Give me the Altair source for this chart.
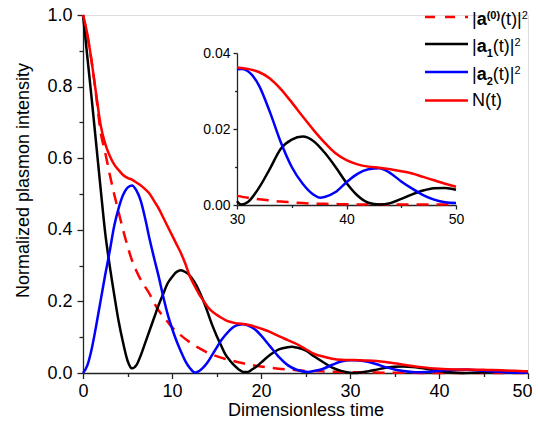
import altair as alt
import pandas as pd

# ---------------- data ----------------
A0_T = [0, 0.5, 1, 1.5, 2, 2.5, 3, 3.5, 4, 4.5, 5, 5.5, 6, 6.5, 7, 7.5, 8, 8.5, 9, 9.5,
        10, 11, 12, 13, 14, 15, 16, 17, 18, 19, 20, 21, 22, 23, 24, 25, 26, 27, 28, 29,
        30, 31, 32, 33, 34, 35, 36, 38, 40, 42, 45, 50]
A0_V = [1.0, 0.94, 0.865, 0.77, 0.67, 0.615, 0.555, 0.50, 0.45, 0.40, 0.355, 0.315, 0.285,
        0.26, 0.24, 0.22, 0.195, 0.175, 0.158, 0.143, 0.128, 0.105, 0.086, 0.07, 0.057,
        0.047, 0.039, 0.033, 0.027, 0.022, 0.018, 0.015, 0.012, 0.010, 0.008, 0.0065,
        0.0055, 0.0045, 0.0037, 0.003, 0.0024, 0.0019, 0.0015, 0.0012, 0.0009, 0.0007,
        0.0005, 0.0003, 0.0002, 0.0001, 0.0001, 0.0001]

A1_T = [0, 0.5, 1, 1.5, 2, 2.5, 3, 3.5, 4, 4.5, 5, 5.5, 6, 6.5, 7, 7.5, 8, 8.5, 9, 9.5,
        10, 10.5, 11, 11.5, 12, 12.5, 13, 13.5, 14, 14.5, 15, 15.5, 16, 16.5, 17, 17.5,
        18, 18.5, 19, 19.5, 20, 21, 22, 23, 23.5, 24, 25, 26, 27, 28, 29, 30, 30.4, 31,
        32, 33, 34, 35, 36, 37, 38, 39, 40, 41, 42, 43, 44, 45, 46, 47, 48, 49, 50]
A1_V = [1.0, 0.88, 0.76, 0.635, 0.51, 0.39, 0.30, 0.22, 0.145, 0.085, 0.035, 0.013, 0.022,
        0.05, 0.085, 0.12, 0.155, 0.19, 0.22, 0.25, 0.268, 0.282, 0.287, 0.282, 0.272,
        0.255, 0.232, 0.203, 0.17, 0.135, 0.105, 0.078, 0.052, 0.035, 0.021, 0.01, 0.003,
        0.003, 0.01, 0.018, 0.029, 0.05, 0.066, 0.072, 0.073, 0.071, 0.063, 0.046, 0.03,
        0.015, 0.006, 0.001, 0.0001, 0.0008, 0.0045, 0.0095, 0.0148, 0.0172, 0.018,
        0.0168, 0.0138, 0.01, 0.0058, 0.0025, 0.0006, 0.0001, 0.0005, 0.0016, 0.0028,
        0.0038, 0.0044, 0.0045, 0.004]

A2_T = [0, 0.5, 1, 1.5, 2, 2.5, 3, 3.5, 4, 4.5, 5, 5.5, 6, 6.5, 7, 7.5, 8, 8.5, 9, 9.5,
        10, 10.5, 11, 11.5, 12, 12.6, 13, 13.5, 14, 14.5, 15, 15.5, 16, 16.5, 17, 17.5,
        18, 18.5, 19, 19.5, 20, 21, 22, 23, 24, 25.3, 26, 27, 28, 29, 30, 30.5, 31, 32,
        33, 34, 35, 36, 37, 37.6, 38, 39, 40, 41, 42, 43, 44, 45, 46, 47, 48, 49, 50]
A2_V = [0.0, 0.022, 0.07, 0.135, 0.205, 0.275, 0.34, 0.41, 0.46, 0.497, 0.518, 0.524, 0.51,
        0.48, 0.43, 0.372, 0.32, 0.27, 0.215, 0.165, 0.125, 0.09, 0.06, 0.033, 0.014,
        0.001, 0.005, 0.015, 0.03, 0.05, 0.07, 0.09, 0.106, 0.12, 0.13, 0.135, 0.136,
        0.133, 0.127, 0.118, 0.105, 0.075, 0.045, 0.022, 0.009, 0.003, 0.006, 0.012,
        0.023, 0.032, 0.0357, 0.0358, 0.0352, 0.0315, 0.0245, 0.0165, 0.0100, 0.0056,
        0.0027, 0.0019, 0.0021, 0.0034, 0.006, 0.0082, 0.0094, 0.0097, 0.0084, 0.0062,
        0.0043, 0.0026, 0.0014, 0.0007, 0.0005]

N_T = [0, 0.5, 1, 1.5, 2, 2.5, 3, 3.5, 4, 4.5, 5, 5.5, 6, 6.5, 7, 7.5, 8, 8.5, 9, 9.5,
       10, 10.5, 11, 11.5, 12, 12.5, 13, 13.5, 14, 14.5, 15, 15.5, 16, 16.5, 17, 17.5,
       18, 18.5, 19, 19.5, 20, 21, 22, 23, 24, 25, 26, 27, 28, 29, 30, 31, 32, 33, 34,
       35, 36, 37, 38, 39, 40, 41, 42, 43, 44, 45, 46, 47, 48, 49, 50]
N_V = [1.0, 0.945, 0.865, 0.775, 0.69, 0.64, 0.607, 0.583, 0.567, 0.553, 0.545, 0.54,
       0.532, 0.524, 0.513, 0.50, 0.48, 0.46, 0.435, 0.41, 0.385, 0.36, 0.335, 0.305,
       0.27, 0.245, 0.222, 0.203, 0.185, 0.172, 0.163, 0.155, 0.148, 0.143, 0.14, 0.138,
       0.137, 0.135, 0.132, 0.128, 0.124, 0.115, 0.103, 0.092, 0.081, 0.067, 0.053, 0.046,
       0.040, 0.037, 0.0362, 0.0358, 0.0350, 0.0333, 0.0305, 0.0270, 0.0233, 0.0197,
       0.0164, 0.0136, 0.0118, 0.0107, 0.0101, 0.0098, 0.0094, 0.0089, 0.0083, 0.0074,
       0.0065, 0.0056, 0.0048]

X_TICKS = [0, 5, 10, 15, 20, 25, 30, 35, 40, 45, 50]
Y_TICKS = [0.0, 0.1, 0.2, 0.3, 0.4, 0.5, 0.6, 0.7, 0.8, 0.9, 1.0]
INSET_X_TICKS = [30, 35, 40, 45, 50]
INSET_Y_TICKS = [0.0, 0.01, 0.02, 0.03, 0.04]

FONT = "Liberation Sans"
AX = "#222222"
PLOT_W, PLOT_H = 445, 358


def frame(t, v, tmin=None):
    df = pd.DataFrame({"t": t, "v": v})
    if tmin is not None:
        df = df[df["t"] >= tmin]
    return df


def cond(test, yes, no):
    return {"condition": {"test": test, "value": yes}, "value": no}


common_axis = dict(grid=False, domainColor=AX, tickColor=AX, domainWidth=1.3, tickWidth=1.3,
                   labelColor="black", titleColor="black", labelFont=FONT, titleFont=FONT,
                   labelFlush=False, labelOverlap=False, titleFontWeight="normal")

x_main = alt.X("t:Q", scale=alt.Scale(domain=[0, 50], nice=False, zero=False),
               axis=alt.Axis(values=X_TICKS,
                             labelExpr="datum.value % 10 == 0 ? datum.label : ''",
                             labelOffset=cond("datum.value == 50", -6, 0),
                             tickSize=cond("datum.value % 10 != 0", 3.5, 5.5),
                             labelPadding=4, labelFontSize=18,
                             title="Dimensionless time", titleFontSize=18,
                             titleX=222.5, titleY=42, titleBaseline="alphabetic",
                             **common_axis))
y_main = alt.Y("v:Q", scale=alt.Scale(domain=[0, 1], nice=False, zero=True),
               axis=alt.Axis(values=Y_TICKS,
                             labelExpr="round(datum.value*10) % 2 == 0 ? format(datum.value, '.1f') : ''",
                             tickSize=cond("round(datum.value*10) % 2 != 0", 4, 6),
                             labelPadding=5, labelFontSize=18,
                             title="Normalized plasmon intensity", titleFontSize=18,
                             titleX=-55, titleY=165, titleBaseline="alphabetic", titleAngle=270,
                             **common_axis))

x_in = alt.X("t:Q", scale=alt.Scale(domain=[30, 50], range=[154, 373], nice=False, zero=False),
             axis=alt.Axis(orient="bottom", offset=-(PLOT_H - 190), values=INSET_X_TICKS,
                           labelExpr="datum.value % 10 == 0 ? datum.label : ''",
                           tickSize=cond("datum.value % 10 != 0", 2.5, 4),
                           labelPadding=3, labelFontSize=14, title=None,
                           **common_axis))
y_in = alt.Y("v:Q", scale=alt.Scale(domain=[0, 0.04], range=[190, 38], nice=False, zero=True),
             axis=alt.Axis(orient="left", offset=-154, values=INSET_Y_TICKS,
                           labelExpr="round(datum.value*100) % 2 == 0 ? format(datum.value, '.2f') : ''",
                           tickSize=cond("round(datum.value*100) % 2 != 0", 2.5, 4),
                           labelPadding=3, labelFontSize=14, title=None,
                           **common_axis))

SERIES = [
    (A0_T, A0_V, "#ff0000", [12, 8]),
    (A1_T, A1_V, "#000000", None),
    (A2_T, A2_V, "#0000ff", None),
    (N_T, N_V, "#ff0000", None),
]


def line(df, color, dash, x, y):
    kw = dict(color=color, strokeWidth=2.5, interpolate="monotone")
    if dash:
        kw["strokeDash"] = dash
    return alt.Chart(df).mark_line(**kw).encode(x=x, y=y)


main = alt.layer(*[line(frame(t, v), c, d, x_main, y_main) for t, v, c, d in SERIES])
inset = alt.layer(*[line(frame(t, v, 30), c, d, x_in, y_in) for t, v, c, d in SERIES])

# ---------------- manual legend ----------------
one = pd.DataFrame({"k": [0]})
LEG_LINE_Y = [2, 29, 57, 85.5]
LEG_BASE_Y = [10, 37, 65, 91]
LEG_X0, LEG_X1, TXT_X = 342, 385, 389
LEG_TEXT = [
    [("|", 18, "normal", 0), ("a", 18, "bold", 0), ("(0)", 11, "bold", -6), ("(t)|", 18, "normal", 0), ("2", 11, "normal", -6)],
    [("|", 18, "normal", 0), ("a", 18, "bold", 0), ("1", 11, "bold", 5), ("(t)|", 18, "normal", 0), ("2", 11, "normal", -6)],
    [("|", 18, "normal", 0), ("a", 18, "bold", 0), ("2", 11, "bold", 5), ("(t)|", 18, "normal", 0), ("2", 11, "normal", -6)],
    [("N(t)", 18, "normal", 0)],
]
W_NORMAL = {"|": 0.26, "a": 0.556, "(": 0.333, ")": 0.333, "t": 0.278, "0": 0.556, "1": 0.556, "2": 0.556, "N": 0.722}
W_BOLD = {"a": 0.556, "(": 0.333, ")": 0.333, "0": 0.556, "1": 0.556, "2": 0.556}

legend_layers = []
for i, (t, v, c, d) in enumerate(SERIES):
    kw = dict(color=c, strokeWidth=2.5)
    if d:
        kw["strokeDash"] = [10, 10]
    legend_layers.append(alt.Chart(one).mark_rule(**kw).encode(
        x=alt.value(LEG_X0), x2=alt.value(LEG_X1), y=alt.value(LEG_LINE_Y[i])))
    cx = TXT_X
    for s, fs, fw, dy in LEG_TEXT[i]:
        legend_layers.append(alt.Chart(one).mark_text(
            text=s, font=FONT, fontSize=fs, fontWeight=fw, align="left",
            baseline="alphabetic", color="black").encode(
            x=alt.value(cx), y=alt.value(LEG_BASE_Y[i] + dy)))
        table = W_BOLD if fw == "bold" else W_NORMAL
        cx += sum(table.get(ch, 0.5) for ch in s) * fs

legend = alt.layer(*legend_layers)

chart = alt.layer(main, inset, legend).resolve_scale(x="independent", y="independent").properties(
    width=PLOT_W, height=PLOT_H,
    autosize=alt.AutoSizeParams(type="none"),
    padding={"left": 75, "top": 7, "right": 4, "bottom": 46},
).configure_view(stroke=None).configure(background="white")

chart.save("out.html", embed_options={"renderer": "svg", "actions": False})
